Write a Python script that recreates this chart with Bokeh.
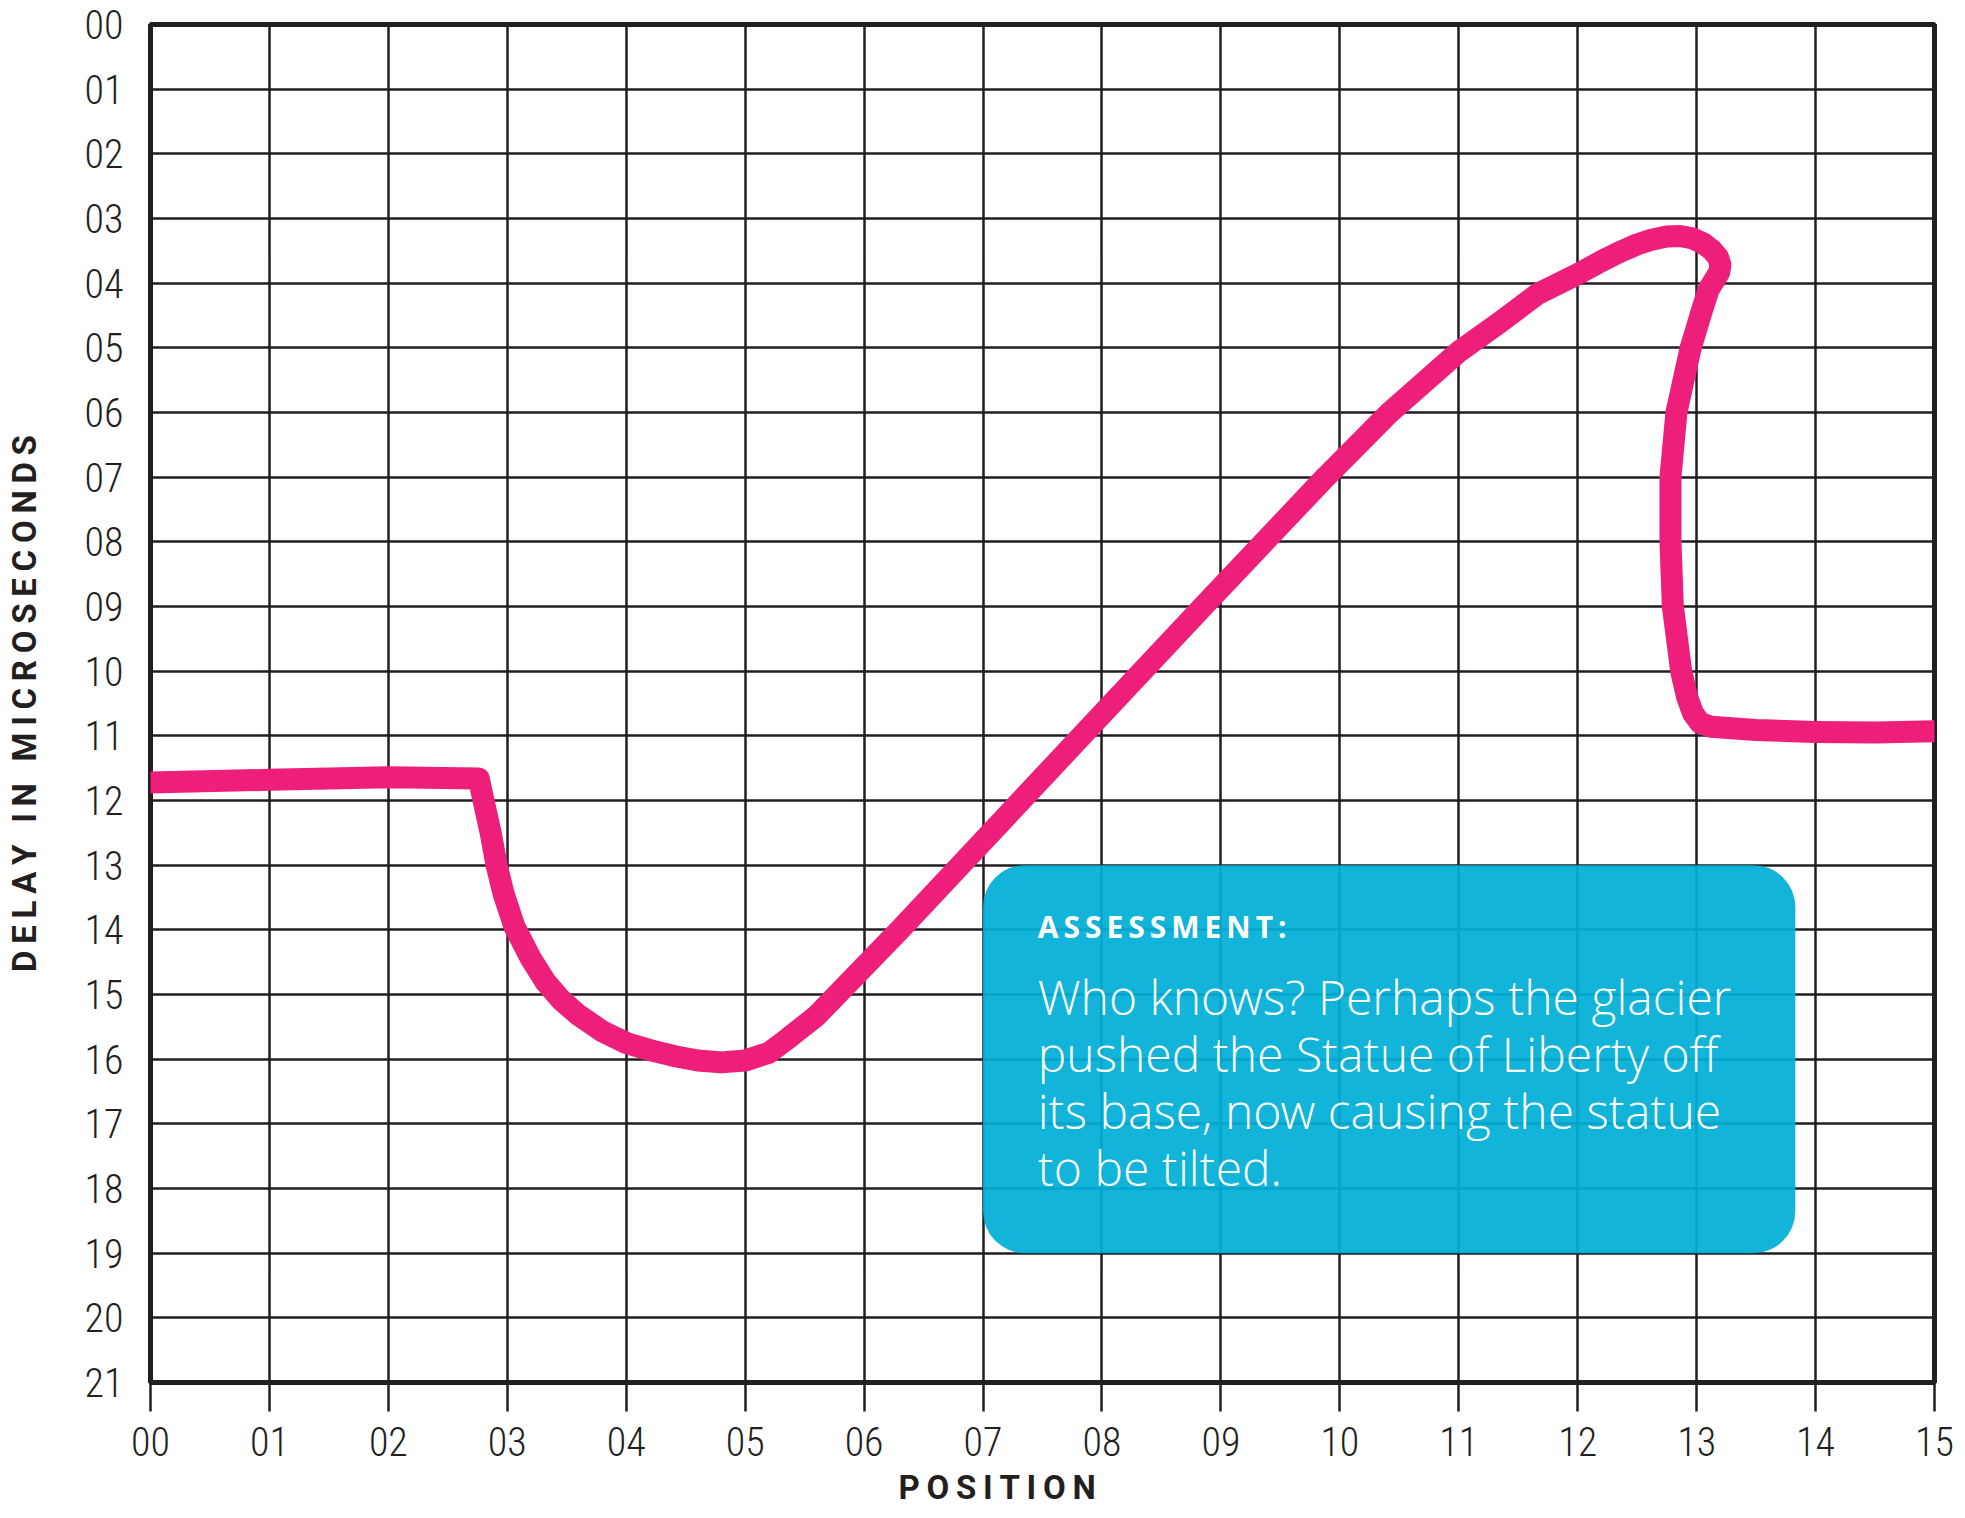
from bokeh.plotting import figure
from bokeh.models import Range1d, BoxAnnotation, Label, Title
from bokeh.embed import file_html
from bokeh.resources import INLINE

# ---- data ----
position = [0.00, 1.00, 2.00, 2.76, 2.80, 2.86, 2.91, 2.97, 3.06, 3.20, 3.32, 3.45, 3.60, 3.80,
            4.00, 4.20, 4.40, 4.60, 4.80, 5.00, 5.20, 5.36, 5.60, 6.30, 6.81, 7.32, 7.83,
            8.85, 9.88, 10.42, 11.00, 11.35, 11.66, 12.00, 12.20, 12.34, 12.50, 12.62, 12.75,
            12.86, 12.97, 13.06, 13.13, 13.18, 13.20, 13.19, 13.15, 13.10, 13.04, 12.95, 12.83,
            12.78, 12.78, 12.80, 12.87, 12.92, 12.97, 13.03, 13.12, 13.50, 14.00, 14.50, 15.00]
delay = [11.72, 11.68, 11.64, 11.66, 12.00, 12.50, 13.00, 13.45, 13.95, 14.45, 14.80, 15.08, 15.32, 15.57,
         15.75, 15.86, 15.95, 16.02, 16.05, 16.02, 15.90, 15.68, 15.33, 14.00, 13.00, 12.00, 11.00,
         9.00, 7.00, 6.00, 5.06, 4.60, 4.17, 3.86, 3.66, 3.53, 3.40, 3.33, 3.28,
         3.27, 3.31, 3.39, 3.49, 3.60, 3.72, 3.83, 3.95, 4.10, 4.45, 5.00, 6.00,
         7.00, 8.00, 9.00, 10.00, 10.40, 10.65, 10.80, 10.86, 10.91, 10.94, 10.95, 10.93]

x_ticks = list(range(0, 16))
x_tick_labels = ["00", "01", "02", "03", "04", "05", "06", "07", "08", "09",
                 "10", "11", "12", "13", "14", "15"]
y_ticks = list(range(0, 22))
y_tick_labels = ["00", "01", "02", "03", "04", "05", "06", "07", "08", "09", "10",
                 "11", "12", "13", "14", "15", "16", "17", "18", "19", "20", "21"]

x_title = "POSITION"
y_title = "DELAY IN MICROSECONDS"

box_left, box_right, box_top, box_bottom = 7.0, 13.83, 13.0, 19.0
box_heading = "ASSESSMENT:"
box_lines = ["Who knows? Perhaps the glacier",
             "pushed the Statue of Liberty off",
             "its base, now causing the statue",
             "to be tilted."]


def tracked(s):
    """Letter-spaced rendering of a caps title (thin spaces between letters)."""
    return "\u2009 \u2009".join("\u2009".join(word) for word in s.split(" "))


# ---- styling ----
INK = "#231f20"
PINK = "#ED1F7A"
CYAN = "#00AED6"
TICK_FONT = "Roboto Condensed Light, Roboto Condensed, Roboto Light, Roboto"
TITLE_FONT = "Roboto"
BODY_FONT = "Open Sans Light, Open Sans"

p = figure(width=1960, height=1518, output_backend="svg", toolbar_location=None,
           x_range=Range1d(0, 15), y_range=Range1d(21, 0),
           min_border_left=150, min_border_right=26, min_border_top=24, min_border_bottom=136)
p.background_fill_color = "white"
p.border_fill_color = "white"
p.outline_line_color = INK
p.outline_line_width = 5

p.xaxis.ticker = x_ticks
p.yaxis.ticker = y_ticks
p.xaxis.major_label_overrides = {t: l for t, l in zip(x_ticks, x_tick_labels)}
p.yaxis.major_label_overrides = {t: l for t, l in zip(y_ticks, y_tick_labels)}

for ax in (p.xaxis, p.yaxis):
    ax.axis_line_color = None
    ax.minor_tick_line_color = None
    ax.major_label_text_font = TICK_FONT
    ax.major_label_text_font_size = "40px"
    ax.major_label_text_color = INK
    ax.axis_label_text_font = TITLE_FONT
    ax.axis_label_text_font_style = "bold"
    ax.axis_label_text_font_size = "33px"
    ax.axis_label_text_color = INK

p.xaxis.major_tick_out = 29
p.xaxis.major_tick_in = 0
p.xaxis.major_tick_line_width = 2.5
p.xaxis.major_tick_line_color = INK
p.xaxis.major_label_standoff = 15

p.yaxis.major_tick_out = 0
p.yaxis.major_tick_in = 0
p.yaxis.major_tick_line_color = None
p.yaxis.major_label_standoff = 27
p.yaxis.axis_label = tracked(y_title)
p.yaxis.axis_label_standoff = 38

# x title, set a little left of centre as in the reference
p.add_layout(Title(text=tracked(x_title), align="left", offset=748, standoff=18,
                   vertical_align="top", text_font=TITLE_FONT, text_font_style="bold",
                   text_font_size="33px", text_color=INK), "below")

p.grid.grid_line_color = INK
p.grid.grid_line_width = 2.5
p.grid.grid_line_alpha = 1.0

# the curve
p.line(position, delay, line_color=PINK, line_width=22, line_cap="round", line_join="round")

# callout box
p.add_layout(BoxAnnotation(left=box_left, right=box_right, top=box_top, bottom=box_bottom,
                           fill_color=CYAN, fill_alpha=0.93, line_color=None,
                           border_radius=42))

p.add_layout(Label(x=7.46, y=13.95, text=tracked(box_heading), text_color="white",
                   text_font="Open Sans", text_font_style="bold", text_font_size="30px",
                   text_baseline="alphabetic", text_align="left"))
for i, line in enumerate(box_lines):
    p.add_layout(Label(x=7.46, y=15.03 + 0.883 * i, text=line, text_color="white",
                       text_font=BODY_FONT, text_font_size="48px",
                       text_baseline="alphabetic", text_align="left"))

open("out.html", "w").write(file_html(p, INLINE))
